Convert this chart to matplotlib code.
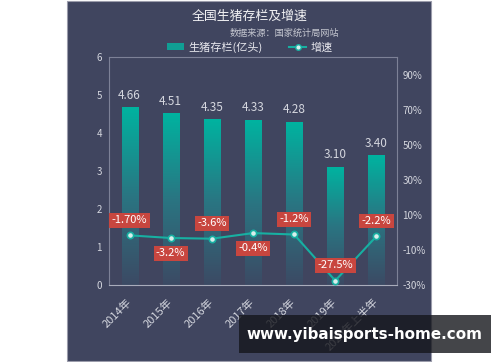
import matplotlib
matplotlib.use("Agg")
import matplotlib.pyplot as plt
import numpy as np
from matplotlib.patches import Rectangle
from matplotlib.colors import LinearSegmentedColormap
from matplotlib.lines import Line2D
from matplotlib.patches import Patch

plt.rcParams['font.family'] = ['Noto Sans CJK SC', 'DejaVu Sans']

categories = ['2014年', '2015年', '2016年', '2017年', '2018年', '2019年', '2020年上半年']
stock = [4.66, 4.51, 4.35, 4.33, 4.28, 3.10, 3.40]
stock_labels = ['4.66', '4.51', '4.35', '4.33', '4.28', '3.10', '3.40']
growth = [-1.7, -3.2, -3.6, -0.4, -1.2, -27.5, -2.2]
growth_labels = ['-1.70%', '-3.2%', '-3.6%', '-0.4%', '-1.2%', '-27.5%', '-2.2%']
label_above = [True, False, True, False, True, True, True]
right_ticks = [-30, -10, 10, 30, 50, 70, 90]

BG = '#40455f'
TEAL = '#00b3a0'
LINE = '#17b0a2'
RED = '#c8463f'
TXT = '#d4d6de'

fig = plt.figure(figsize=(5.0, 3.62), dpi=100)
fig.patch.set_facecolor('white')
panel = Rectangle((67/500, 0.003), (431-67)/500, 0.995, transform=fig.transFigure,
                  facecolor=BG, edgecolor='#9b9cab', linewidth=0.8, zorder=-10)
fig.patches.append(panel)

ax = fig.add_axes([109/500, 1-285/362, (397-109)/500, (285-57)/362])
ax.set_facecolor('none')
x = np.arange(len(categories))
ax.set_xlim(-0.5, len(categories)-0.5)
ax.set_ylim(0, 6)

cmap = LinearSegmentedColormap.from_list('g', ['#3c4a64', '#2a7582', TEAL])
bars = ax.bar(x, stock, width=0.39, facecolor='none', edgecolor='none', zorder=2)
grad = np.linspace(0, 1, 256).reshape(-1, 1)
for b in bars:
    x0, w, h = b.get_x(), b.get_width(), b.get_height()
    ax.imshow(grad, extent=[x0, x0+w, 0, h], origin='lower', aspect='auto',
              cmap=cmap, zorder=2)
ax.set_xlim(-0.5, len(categories)-0.5)
ax.set_ylim(0, 6)
for b, lab in zip(bars, stock_labels):
    ax.annotate(lab, (b.get_x()+b.get_width()/2, b.get_height()), xytext=(0, 9),
                textcoords='offset points', ha='center', va='center',
                color=TXT, fontsize=8.5, zorder=5)

ax.set_yticks(range(0, 7))
ax.tick_params(axis='y', length=0, labelsize=7, colors=TXT, pad=5)
ax.set_xticks(x)
ax.set_xticklabels(categories, rotation=45, ha='right', rotation_mode='anchor',
                   va='center', fontsize=8, color=TXT)
ax.tick_params(axis='x', length=0, pad=11)
for s in ax.spines.values():
    s.set_color('#7d8197')
    s.set_linewidth(0.8)
ax.spines['bottom'].set_color('#a9acbb')

ax2 = ax.twinx()
ax2.set_ylim(-30, 100)
ax2.plot(x, growth, color=LINE, linewidth=1.5, marker='o', markersize=4.5,
         markerfacecolor='#d8efec', markeredgecolor=LINE, markeredgewidth=1.2, zorder=4)
for xi, g, lab, up in zip(x, growth, growth_labels, label_above):
    ax2.annotate(lab, (xi, g), xytext=(0, 11 if up else -11), textcoords='offset points',
                 ha='center', va='center', color='white', fontsize=8,
                 bbox=dict(boxstyle='square,pad=0.22', facecolor=RED, edgecolor='none'),
                 zorder=6)
ax2.set_yticks(right_ticks)
ax2.set_yticklabels([f'{v}%' for v in right_ticks])
ax2.tick_params(axis='y', length=0, labelsize=7, colors=TXT, pad=4)
for s in ax2.spines.values():
    s.set_visible(False)

fig.text(250/500, 1-16/362, '全国生猪存栏及增速', ha='center', va='center',
         color='#f2f2f4', fontsize=9.3)
fig.text(339/500, 1-33/362, '数据来源：国家统计局网站', ha='right', va='center',
         color='#c5c7d0', fontsize=6.6)

handles = [Patch(facecolor='#109e94', edgecolor='none'),
           Line2D([0], [0], color=LINE, lw=1.5, marker='o', markersize=4,
                  markerfacecolor='#d8efec', markeredgecolor=LINE)]
leg = fig.legend(handles, ['生猪存栏(亿头)', '增速'], loc='center', ncol=2,
                 bbox_to_anchor=(250/500, 1-47/362), frameon=False, fontsize=8,
                 labelcolor='#e8e8ee', handlelength=1.5, handleheight=0.6,
                 columnspacing=2.4, handletextpad=0.4)

wm = Rectangle((239/500, 1-353/362), (491-239)/500, 38/362, transform=fig.transFigure,
               facecolor='#15161c', alpha=0.8, edgecolor='none', zorder=10)
fig.patches.append(wm)
fig.text(364/500, 1-334/362, 'www.yibaisports-home.com', ha='center', va='center',
         color='white', fontsize=10.9, fontweight='bold', family='DejaVu Sans', zorder=11)

fig.savefig('out.png', dpi=100)
